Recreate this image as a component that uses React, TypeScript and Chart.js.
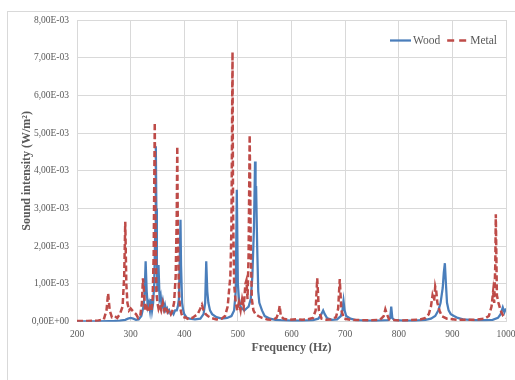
import React, { useEffect, useRef } from "react";
import { Chart, registerables } from "chart.js";

Chart.register(...registerables);

// Frequencies (Hz) and sound intensity values (in units of 1E-3 W/m²)
const woodFreq = [200, 220, 240, 260, 270, 280, 290, 295, 300, 305, 310, 315, 320, 324, 326, 328, 330, 332, 334, 336, 338, 340, 342, 344, 346, 347, 348, 349, 350, 352, 354, 356, 358, 360, 362, 364, 366, 368, 370, 372, 375, 378, 380, 383, 386, 388, 390, 391, 393, 394, 396, 398, 400, 405, 410, 420, 430, 436, 439, 441, 443, 445, 448, 452, 460, 470, 480, 488, 493, 496, 498, 500, 502, 505, 508, 512, 516, 520, 524, 527, 530, 532, 533, 534, 536, 538, 540, 545, 550, 560, 570, 580, 600, 620, 640, 650, 655, 659, 662, 666, 675, 685, 692, 695, 697, 699, 702, 710, 720, 740, 760, 780, 784, 786, 788, 792, 810, 830, 850, 860, 868, 874, 878, 882, 884, 886, 888, 890, 893, 897, 903, 910, 920, 940, 960, 975, 985, 990, 994, 997, 1000];
const woodVal = [0.01, 0.01, 0.01, 0.015, 0.02, 0.03, 0.05, 0.08, 0.1, 0.08, 0.05, 0.06, 0.15, 0.4, 0.7, 1.6, 0.8, 0.4, 0.5, 0.3, 0.6, 0.3, 0.5, 1.0, 2.5, 4.65, 3.0, 1.5, 0.8, 1.5, 0.6, 0.7, 0.4, 0.55, 0.35, 0.45, 0.3, 0.35, 0.25, 0.3, 0.2, 0.25, 0.2, 0.3, 0.3, 0.4, 0.6, 1.2, 2.7, 1.5, 0.5, 0.3, 0.2, 0.1, 0.08, 0.06, 0.08, 0.2, 0.5, 1.6, 0.8, 0.5, 0.3, 0.2, 0.12, 0.08, 0.1, 0.15, 0.3, 0.8, 3.5, 1.0, 0.6, 0.4, 0.35, 0.3, 0.35, 0.4, 0.6, 1.2, 2.5, 4.25, 3.5, 3.6, 2.0, 0.8, 0.5, 0.3, 0.15, 0.08, 0.05, 0.04, 0.03, 0.03, 0.04, 0.08, 0.18, 0.3, 0.2, 0.1, 0.05, 0.06, 0.15, 0.3, 0.55, 0.3, 0.15, 0.08, 0.04, 0.03, 0.03, 0.04, 0.1, 0.4, 0.1, 0.04, 0.03, 0.03, 0.05, 0.08, 0.15, 0.3, 0.5, 0.9, 1.3, 1.55, 1.0, 0.5, 0.3, 0.2, 0.15, 0.1, 0.06, 0.04, 0.04, 0.05, 0.1, 0.2, 0.38, 0.25, 0.35];

const metalFreq = [200, 220, 240, 250, 255, 258, 261, 265, 270, 275, 280, 285, 288, 290, 292, 294, 297, 300, 303, 306, 310, 314, 318, 321, 323, 325, 327, 330, 333, 336, 339, 341, 343, 345, 346, 348, 350, 352, 354, 357, 360, 363, 366, 369, 372, 375, 378, 381, 384, 386, 387, 388, 390, 392, 395, 398, 402, 406, 410, 415, 420, 425, 430, 433, 436, 440, 444, 450, 460, 470, 476, 481, 484, 486, 488, 490, 491, 493, 496, 499, 502, 505, 508, 511, 514, 516, 518, 520, 522, 524, 526, 529, 533, 538, 545, 555, 565, 572, 576, 578, 580, 585, 595, 610, 620, 630, 640, 645, 648, 651, 656, 665, 675, 683, 687, 690, 693, 698, 710, 730, 750, 765, 772, 775, 778, 782, 800, 820, 840, 850, 856, 860, 863, 866, 868, 870, 872, 876, 880, 890, 910, 940, 960, 968, 973, 976, 978, 980, 981, 983, 986, 990, 995, 1000];
const metalVal = [0.02, 0.02, 0.03, 0.06, 0.3, 0.75, 0.3, 0.12, 0.15, 0.1, 0.2, 0.4, 1.2, 2.65, 1.0, 0.5, 0.3, 0.35, 0.3, 0.25, 0.2, 0.1, 0.15, 0.5, 1.15, 0.8, 0.3, 0.4, 0.25, 0.4, 0.3, 0.6, 1.8, 5.28, 3.0, 0.8, 0.5, 0.35, 0.45, 0.3, 0.5, 0.3, 0.4, 0.25, 0.3, 0.2, 0.3, 0.5, 1.2, 2.8, 4.65, 2.5, 0.8, 0.4, 0.2, 0.1, 0.12, 0.08, 0.12, 0.1, 0.15, 0.2, 0.35, 0.45, 0.3, 0.2, 0.15, 0.1, 0.06, 0.08, 0.15, 0.4, 0.9, 1.2, 2.5, 7.15, 3.0, 1.0, 0.5, 0.3, 0.5, 0.3, 0.6, 0.4, 1.0, 1.1, 0.6, 1.8, 4.95, 2.0, 0.6, 0.3, 0.2, 0.15, 0.1, 0.06, 0.05, 0.1, 0.25, 0.42, 0.15, 0.08, 0.05, 0.07, 0.05, 0.06, 0.1, 0.3, 1.15, 0.3, 0.08, 0.05, 0.06, 0.12, 0.35, 1.13, 0.3, 0.08, 0.05, 0.04, 0.04, 0.05, 0.15, 0.33, 0.2, 0.06, 0.03, 0.04, 0.06, 0.1, 0.2, 0.4, 0.7, 0.55, 0.93, 0.8, 0.5, 0.3, 0.15, 0.08, 0.05, 0.05, 0.08, 0.15, 0.4, 0.8, 0.5, 1.5, 2.85, 0.7, 0.5, 0.3, 0.15, 0.1];

const seriesNames = ["Wood", "Metal"];
const xTitle = "Frequency (Hz)";
const yTitle = "Sound intensity (W/m²)";

const FONT = "'Liberation Serif', 'Times New Roman', serif";
const GRAY = "#595959";

function fmtSci(v: number): string {
  if (v === 0) return "0,00E+00";
  const [m, e] = v.toExponential(2).split("e");
  const ei = parseInt(e, 10);
  return m.replace(".", ",") + "E" + (ei < 0 ? "-" : "+") + String(Math.abs(ei)).padStart(2, "0");
}

// Legend drawn inside the plot area at the top-right, from the dataset styles
const insideLegend = {
  id: "insideLegend",
  afterDatasetsDraw(chart: any) {
    const { ctx, chartArea } = chart;
    const y = chartArea.top + 20.5;
    const lineW = 21;
    const gapText = 2;
    const gapItems = 7;
    ctx.save();
    ctx.font = `11.5px ${FONT}`;
    ctx.textBaseline = "middle";
    const items = chart.data.datasets.map((ds: any) => ({
      text: ds.label,
      color: ds.borderColor,
      dash: ds.borderDash ? [7, 5] : [],
      width: ds.borderWidth,
      tw: ctx.measureText(ds.label).width,
    }));
    let total = 0;
    items.forEach((it: any, i: number) => {
      total += lineW + gapText + it.tw + (i < items.length - 1 ? gapItems : 0);
    });
    let x = chartArea.right - 9 - total;
    items.forEach((it: any) => {
      ctx.beginPath();
      ctx.setLineDash(it.dash);
      ctx.strokeStyle = it.color;
      ctx.lineWidth = it.width;
      ctx.moveTo(x, y);
      ctx.lineTo(x + lineW, y);
      ctx.stroke();
      ctx.setLineDash([]);
      ctx.fillStyle = GRAY;
      ctx.fillText(it.text, x + lineW + gapText, y + 0.5);
      x += lineW + gapText + it.tw + gapItems;
    });
    ctx.restore();
  },
};

export default function App() {
  const ref = useRef<HTMLCanvasElement | null>(null);

  useEffect(() => {
    document.body.style.margin = "0";
    document.body.style.overflow = "hidden";
    const ctx = ref.current;
    if (!ctx) return;
    const chart = new Chart(ctx, {
      type: "line",
      data: {
        datasets: [
          {
            label: seriesNames[0],
            data: woodFreq.map((f, i) => ({ x: f, y: woodVal[i] * 1e-3 })),
            borderColor: "#4a7ebb",
            backgroundColor: "#4a7ebb",
            borderWidth: 2.25,
            pointRadius: 0,
            tension: 0,
            order: 1,
          },
          {
            label: seriesNames[1],
            data: metalFreq.map((f, i) => ({ x: f, y: metalVal[i] * 1e-3 })),
            borderColor: "#be4b48",
            backgroundColor: "#be4b48",
            borderWidth: 2.5,
            borderDash: [6, 3],
            pointRadius: 0,
            tension: 0,
            order: 0,
          },
        ],
      },
      plugins: [insideLegend],
      options: {
        animation: false,
        responsive: false,
        maintainAspectRatio: false,
        layout: { padding: { left: 12, right: 9, top: 20, bottom: 25 } },
        plugins: {
          tooltip: { enabled: false },
          legend: { display: false },
        },
        scales: {
          x: {
            type: "linear",
            min: 200,
            max: 1000,
            ticks: {
              stepSize: 100,
              autoSkip: false,
              maxRotation: 0,
              color: GRAY,
              font: { family: FONT, size: 9.5 },
              padding: 7,
              callback: (v: any) => String(v),
            },
            grid: { color: "#d9d9d9", drawTicks: false },
            border: { color: "#d9d9d9" },
            title: {
              display: true,
              text: xTitle,
              color: GRAY,
              font: { family: FONT, size: 12, weight: "bold" },
              padding: { top: 4, bottom: 0 },
            },
            afterFit: (s: any) => {
              s.height = 33.3;
              s.paddingLeft = 0;
              s.paddingRight = 0;
            },
          },
          y: {
            min: 0,
            max: 0.008,
            ticks: {
              stepSize: 0.001,
              color: GRAY,
              font: { family: FONT, size: 9.5 },
              padding: 8,
              callback: (v: any) => fmtSci(Number(v)),
            },
            grid: { color: "#d9d9d9", drawTicks: false },
            border: { color: "#d9d9d9" },
            title: {
              display: true,
              text: yTitle,
              color: GRAY,
              font: { family: FONT, size: 12, weight: "bold" },
              padding: { top: 8, bottom: 0 },
            },
            afterFit: (s: any) => {
              s.width = 65;
              s.paddingTop = 0;
              s.paddingBottom = 0;
            },
          },
        },
      },
    } as any);
    return () => chart.destroy();
  }, []);

  return (
    <div style={{ position: "fixed", left: 0, top: 0, width: 515, height: 380, background: "#fff", overflow: "hidden" }}>
      <div
        style={{
          position: "absolute",
          left: 7,
          top: 11,
          width: 508,
          height: 369,
          borderLeft: "1px solid #d9d9d9",
          borderTop: "1px solid #d9d9d9",
          boxSizing: "border-box",
        }}
      />
      <canvas ref={ref} width={515} height={380} style={{ position: "absolute", left: 0, top: 0 }} />
    </div>
  );
}
